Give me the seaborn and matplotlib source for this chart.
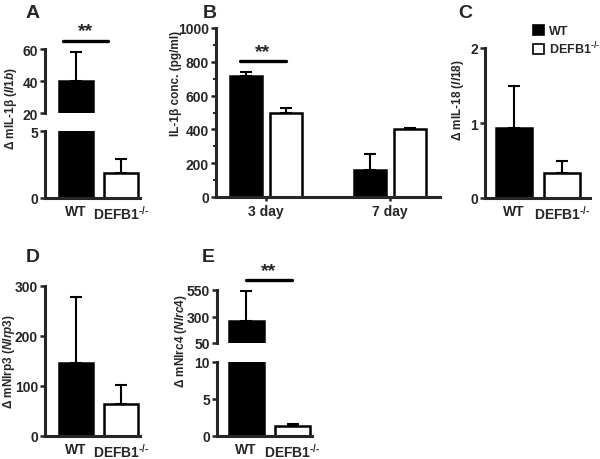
import numpy as np
import pandas as pd
import matplotlib
matplotlib.use("Agg")
import matplotlib.pyplot as plt
from matplotlib.patches import Patch
from matplotlib.ticker import MultipleLocator
import seaborn as sns

# ---------------- data ----------------
genotypes = ["WT", "DEFB1$^{\u2010/\u2010}$"]
il1b_mean = [40.0, 1.9]
il1b_err = [18.0, 1.0]

days = ["3 day", "7 day"]
conc_wt = [715, 160]
conc_wt_err = [27, 95]
conc_ko = [495, 405]
conc_ko_err = [30, 6]

il18_mean = [0.93, 0.33]
il18_err = [0.56, 0.16]

nlrp3_mean = [147, 65]
nlrp3_err = [131, 37]

nlrc4_mean = [257, 1.3]
nlrc4_err = [283, 0.35]

# ---------------- style ----------------
sns.set_style("ticks")
plt.rcParams["font.family"] = ["Liberation Sans", "DejaVu Sans"]
plt.rcParams["font.weight"] = "bold"
plt.rcParams["mathtext.fontset"] = "custom"
plt.rcParams["mathtext.rm"] = "Liberation Sans:bold"
plt.rcParams["mathtext.it"] = "Liberation Sans:italic:bold"
plt.rcParams["mathtext.bf"] = "Liberation Sans:bold"
plt.rcParams["mathtext.default"] = "rm"

W, H = 600, 460
fig = plt.figure(figsize=(6, 4.6), dpi=100)
fig.patch.set_facecolor("white")

TICK_FS = 10
LAB_FS = 8.5
SPINE_LW = 2.2
BAR_LW = 1.8
ERR_LW = 1.5


def ax_px(x0, y0, x1, y1):
    ax = fig.add_axes([x0 / W, 1 - y1 / H, (x1 - x0) / W, (y1 - y0) / H])
    ax.set_facecolor("none")
    return ax


def style_ax(ax, bottom=True):
    sns.despine(ax=ax, top=True, right=True, bottom=not bottom)
    ax.spines["left"].set_linewidth(SPINE_LW)
    ax.spines["bottom"].set_linewidth(SPINE_LW)
    ax.tick_params(axis="y", direction="out", length=3.5, width=1.8,
                   labelsize=TICK_FS, pad=1.5)
    ax.tick_params(axis="x", length=0, labelsize=TICK_FS, pad=4)
    ax.set_xlabel("")
    ax.set_ylabel("")
    for lab in ax.get_yticklabels() + ax.get_xticklabels():
        lab.set_fontweight("bold")


def two_bars(ax, means, errs, xlim, ylim, yticks, bottom=True, show_x=True):
    df = pd.DataFrame({"g": genotypes, "v": means})
    sns.barplot(data=df, x="g", y="v", hue="g", palette=["black", "white"],
                edgecolor="black", linewidth=BAR_LW, width=0.75, ax=ax,
                legend=False, saturation=1)
    ax.errorbar([0, 1], means, yerr=[[0, 0], errs], fmt="none", ecolor="black",
                elinewidth=ERR_LW, capsize=4.5, capthick=ERR_LW, zorder=1)
    ax.set_xlim(*xlim)
    ax.set_ylim(*ylim)
    ax.set_yticks(yticks)
    style_ax(ax, bottom=bottom)
    if show_x:
        ax.set_xticks([0, 1])
        ax.set_xticklabels(genotypes, fontweight="bold")
    else:
        ax.set_xticks([])


# ---------------- panel A (broken axis) ----------------
A_top = ax_px(45, 50, 140, 114)
two_bars(A_top, il1b_mean, il1b_err, (-0.69, 1.42), (20, 60), [20, 40, 60],
         bottom=False, show_x=False)
A_bot = ax_px(45, 132, 140, 199)
two_bars(A_bot, il1b_mean, il1b_err, (-0.69, 1.42), (0, 5), [0, 5])
A_top.plot([-0.29, 0.72], [65, 65], color="black", lw=2.4, clip_on=False)
A_top.text(0.215, 66, "**", ha="center", va="bottom", fontsize=14,
           fontweight="bold")
fig.text(11 / W, 1 - 108 / H, "Δ mIL-1β ($\\mathit{Il1b}$)", rotation=90,
         ha="center", va="center", fontsize=LAB_FS, fontweight="bold")

# ---------------- panel B ----------------
B = ax_px(216, 29, 440, 198)
dfB = pd.DataFrame({
    "day": days * 2,
    "geno": ["WT"] * 2 + ["KO"] * 2,
    "v": conc_wt + conc_ko,
})
sns.barplot(data=dfB, x="day", y="v", hue="geno", palette=["black", "white"],
            edgecolor="black", linewidth=BAR_LW, width=0.645, gap=0.2, ax=B,
            legend=False, saturation=1)
bars = sorted(B.patches, key=lambda p: p.get_x())
centers = [p.get_x() + p.get_width() / 2 for p in bars]
b_means = [conc_wt[0], conc_ko[0], conc_wt[1], conc_ko[1]]
b_errs = [conc_wt_err[0], conc_ko_err[0], conc_wt_err[1], conc_ko_err[1]]
B.errorbar(centers, b_means, yerr=[[0] * 4, b_errs], fmt="none", ecolor="black",
           elinewidth=ERR_LW, capsize=4.5, capthick=ERR_LW, zorder=1)
B.set_xlim(-0.403, 1.403)
B.set_ylim(0, 1000)
B.set_yticks([0, 200, 400, 600, 800, 1000])
B.yaxis.set_minor_locator(MultipleLocator(100))
style_ax(B)
B.tick_params(axis="y", which="minor", length=2.2, width=1.4)
B.tick_params(axis="x", length=3, width=1.8, pad=2)
B.set_xticks([0, 1])
B.set_xticklabels(days, fontweight="bold")
B.plot([-0.21, 0.16], [805, 805], color="black", lw=2.4, clip_on=False)
B.text(-0.025, 812, "**", ha="center", va="bottom", fontsize=14,
       fontweight="bold")
fig.text(176 / W, 1 - 83 / H, "IL-1β conc. (pg/ml)", rotation=90,
         ha="center", va="center", fontsize=LAB_FS, fontweight="bold")

# ---------------- panel C ----------------
C = ax_px(485, 49, 590, 199)
two_bars(C, il18_mean, il18_err, (-0.60, 1.58), (0, 2), [0, 1, 2])
fig.text(458 / W, 1 - 100 / H, "Δ mIL-18 ($\\mathit{Il18}$)", rotation=90,
         ha="center", va="center", fontsize=LAB_FS, fontweight="bold")
handles = [Patch(facecolor="black", edgecolor="black", linewidth=1.2),
           Patch(facecolor="white", edgecolor="black", linewidth=1.2)]
fig.legend(handles, ["WT", "DEFB1$^{\u2010/\u2010}$"], loc="upper left",
           bbox_to_anchor=(533 / W, 1 - 26 / H), frameon=False,
           handlelength=0.9, handleheight=0.9, handletextpad=0.35,
           borderpad=0, borderaxespad=0, labelspacing=0.2,
           prop={"size": 9, "weight": "bold"})

# ---------------- panel D ----------------
D = ax_px(45, 287, 140, 437)
two_bars(D, nlrp3_mean, nlrp3_err, (-0.69, 1.42), (0, 300), [0, 100, 200, 300])
fig.text(9 / W, 1 - 362 / H, "Δ mNlrp3 ($\\mathit{Nlrp3}$)", rotation=90,
         ha="center", va="center", fontsize=LAB_FS, fontweight="bold")

# ---------------- panel E (broken axis) ----------------
E_top = ax_px(217, 291, 312, 344)
two_bars(E_top, nlrc4_mean, nlrc4_err, (-0.63, 1.42), (50, 550), [50, 300, 550],
         bottom=False, show_x=False)
E_bot = ax_px(217, 363, 312, 437)
two_bars(E_bot, nlrc4_mean, nlrc4_err, (-0.63, 1.42), (0, 10), [0, 5, 10])
E_top.plot([0.0, 0.98], [644, 644], color="black", lw=2.4, clip_on=False)
E_top.text(0.49, 652, "**", ha="center", va="bottom", fontsize=14,
           fontweight="bold")
fig.text(181 / W, 1 - 341 / H, "Δ mNlrc4 ($\\mathit{Nlrc4}$)", rotation=90,
         ha="center", va="center", fontsize=LAB_FS, fontweight="bold")

# ---------------- panel letters ----------------
for letter, x, y in [("A", 33, 14), ("B", 210, 13), ("C", 465, 13),
                     ("D", 33, 258), ("E", 208, 258)]:
    fig.text(x / W, 1 - y / H, letter, ha="center", va="center",
             fontsize=14, fontweight="bold")

fig.savefig("out.png", dpi=100, facecolor="white")
